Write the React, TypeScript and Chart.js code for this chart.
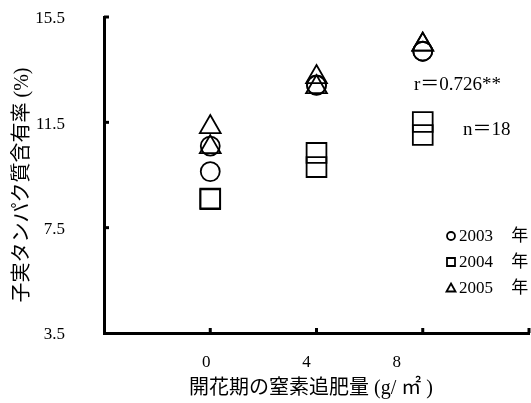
import React, { useEffect, useRef } from "react";
import { Chart, registerables } from "chart.js";

Chart.register(...registerables);

// ---- data ----
const X_LEVELS = [0, 4, 8];
const X_TICK_LABELS = ["0", "4", "8"];
const X_AXIS_MARKS = [0, 4, 8, 12];
const Y_TICKS = [3.5, 7.5, 11.5, 15.5];
const SERIES_NAMES = ["2003 年", "2004 年", "2005 年"];
const X_VALUES = [0, 0, 4, 4, 8, 8];
const Y_2003 = [10.6, 9.63, 12.92, 12.9, 14.2, 14.2];
const Y_2004 = [8.61, 8.58, 10.34, 9.8, 11.51, 11.02];
const Y_2005 = [11.32, 10.56, 13.22, 12.84, 14.45, 14.45];
const R_TEXT = "r＝0.726**";
const N_TEXT = "n＝18";
const Y_TITLE = "子実タンパク質含有率 (%)";
const X_TITLE = "開花期の窒素追肥量 (g/ ㎡ )";

// ---- styles ----
const SERIF = '"Liberation Serif", "Noto Sans CJK JP", serif';
const X_LABEL_SHIFT = [-4, -10, -26];

const overlay = {
  id: "overlay",
  afterDraw(chart: any) {
    const ctx = chart.ctx;
    const xs = chart.scales.x;
    const ys = chart.scales.y;
    const { left, bottom } = chart.chartArea;
    ctx.save();
    ctx.strokeStyle = "#000";
    ctx.fillStyle = "#000";
    // inward tick marks
    ctx.lineWidth = 3;
    Y_TICKS.slice(1).forEach((v) => {
      const y = ys.getPixelForValue(v);
      ctx.beginPath();
      ctx.moveTo(left, y);
      ctx.lineTo(left + 5, y);
      ctx.stroke();
    });
    X_AXIS_MARKS.forEach((v) => {
      const x = xs.getPixelForValue(v);
      ctx.beginPath();
      ctx.moveTo(x, bottom);
      ctx.lineTo(x, bottom - 5);
      ctx.stroke();
    });
    // x tick labels
    ctx.font = "17px " + SERIF;
    ctx.textAlign = "center";
    ctx.textBaseline = "middle";
    X_LEVELS.forEach((v, i) => {
      ctx.fillText(X_TICK_LABELS[i], xs.getPixelForValue(v) + X_LABEL_SHIFT[i], 363);
    });
    // axis titles
    ctx.font = "20px " + SERIF;
    ctx.fillText(X_TITLE, 311, 389);
    ctx.save();
    ctx.translate(23, 185);
    ctx.rotate(-Math.PI / 2);
    ctx.fillText(Y_TITLE, 0, 0);
    ctx.restore();
    // annotations
    ctx.font = "19px " + SERIF;
    ctx.textAlign = "left";
    ctx.fillText(R_TEXT, 414, 85);
    ctx.fillText(N_TEXT, 463, 130);
    // legend
    const rows = [236, 262, 288];
    ctx.font = "17px " + SERIF;
    try {
      (ctx as any).wordSpacing = "14px";
    } catch (e) {}
    ctx.lineWidth = 1.8;
    SERIES_NAMES.forEach((name, i) => {
      const y = rows[i];
      const cx = 451;
      ctx.beginPath();
      if (i === 0) {
        ctx.arc(cx, y, 4, 0, Math.PI * 2);
      } else if (i === 1) {
        ctx.rect(cx - 4, y - 4, 8, 8);
      } else {
        ctx.moveTo(cx, y - 4.5);
        ctx.lineTo(cx + 4.5, y + 3.5);
        ctx.lineTo(cx - 4.5, y + 3.5);
        ctx.closePath();
      }
      ctx.stroke();
      ctx.fillText(name, 459, y + 1);
    });
    try {
      (ctx as any).wordSpacing = "0px";
    } catch (e) {}
    ctx.restore();
  },
};

const mk = (ys: number[]) => X_VALUES.map((x, i) => ({ x, y: ys[i] }));

export default function App() {
  const ref = useRef<HTMLCanvasElement>(null);
  useEffect(() => {
    document.body.style.margin = "0";
    const common = {
      backgroundColor: "transparent",
      borderColor: "#000",
      borderWidth: 1.8,
      showLine: false,
    };
    const chart = new Chart(ref.current!, {
      type: "scatter",
      data: {
        datasets: [
          { ...common, label: SERIES_NAMES[0], data: mk(Y_2003), pointStyle: "circle", pointRadius: 9.5 },
          { ...common, label: SERIES_NAMES[1], data: mk(Y_2004), pointStyle: "rect", pointRadius: 14 },
          { ...common, label: SERIES_NAMES[2], data: mk(Y_2005), pointStyle: "triangle", pointRadius: 12 },
        ],
      },
      options: {
        animation: false,
        responsive: true,
        maintainAspectRatio: false,
        layout: { autoPadding: false, padding: { top: 17, right: 2, left: 0, bottom: 0 } },
        plugins: { legend: { display: false }, tooltip: { enabled: false } },
        scales: {
          x: {
            type: "linear",
            min: -4,
            max: 12,
            afterBuildTicks: (s: any) => {
              s.ticks = X_LEVELS.map((v) => ({ value: v }));
            },
            afterFit: (s: any) => {
              s.height = 70;
              s.paddingLeft = 0;
              s.paddingRight = 0;
            },
            ticks: { display: false },
            grid: { display: false, drawTicks: false, tickLength: 0 },
            border: { display: true, color: "#000", width: 3 },
          },
          y: {
            type: "linear",
            min: 3.5,
            max: 15.5,
            afterBuildTicks: (s: any) => {
              s.ticks = Y_TICKS.map((v) => ({ value: v }));
            },
            afterFit: (s: any) => {
              s.width = 104;
              s.paddingTop = 0;
              s.paddingBottom = 0;
            },
            ticks: {
              color: "#000",
              padding: 39,
              labelOffset: 2,
              font: { family: SERIF, size: 17 },
              callback: (v: any) => String(v),
            },
            grid: { display: false, drawTicks: false, tickLength: 0 },
            border: { display: true, color: "#000", width: 3 },
          },
        },
      },
      plugins: [overlay],
    });
    return () => chart.destroy();
  }, []);
  return (
    <div style={{ position: "fixed", left: 0, top: 0, width: 531, height: 403, background: "#fff" }}>
      <canvas ref={ref} />
    </div>
  );
}
